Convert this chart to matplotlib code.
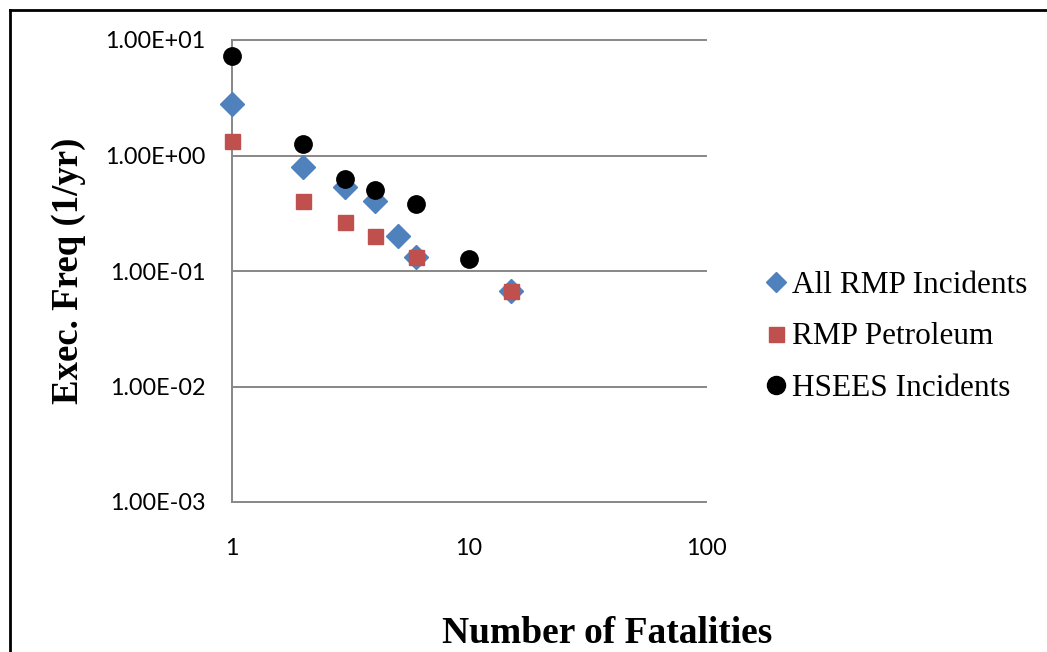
import matplotlib
matplotlib.use("Agg")
import matplotlib.pyplot as plt
from matplotlib.lines import Line2D

# Data
all_rmp_x = [1, 2, 3, 4, 5, 6, 15]
all_rmp_y = [2.8, 0.8, 0.533, 0.4, 0.2, 0.133, 0.0667]
petro_x = [1, 2, 3, 4, 6, 15]
petro_y = [1.33, 0.4, 0.267, 0.2, 0.133, 0.0667]
hsees_x = [1, 2, 3, 4, 6, 10]
hsees_y = [7.25, 1.27, 0.63, 0.5, 0.38, 0.126]
series_names = ["All RMP Incidents", "RMP Petroleum", "HSEES Incidents"]
y_ticks = [1e-3, 1e-2, 1e-1, 1e0, 1e1]
y_tick_labels = ["1.00E-03", "1.00E-02", "1.00E-01", "1.00E+00", "1.00E+01"]
x_ticks = [1, 10, 100]
x_tick_labels = ["1", "10", "100"]

W, H = 1047, 652
fig = plt.figure(figsize=(W / 100, H / 100), dpi=100)

def fx(px):
    return px / W

def fy(py):
    return (H - py) / H

ax = fig.add_axes([fx(232), fy(502), fx(706) - fx(232), fy(40) - fy(502)])
ax.set_xscale("log")
ax.set_yscale("log")
ax.set_xlim(1, 100)
ax.set_ylim(1e-3, 1e1)

grid_c = "#878787"
for t in y_ticks[1:]:
    ax.axhline(t, color=grid_c, lw=1.4, zorder=1, clip_on=False)
for s in ["top", "right"]:
    ax.spines[s].set_visible(False)
for s in ["left", "bottom"]:
    ax.spines[s].set_color(grid_c)
    ax.spines[s].set_linewidth(1.4)

blue = "#4F81BD"
red = "#C0504D"
ax.plot(all_rmp_x, all_rmp_y, ls="none", marker="D", ms=12.6, color=blue,
        mec=blue, zorder=3, clip_on=False)
ax.plot(petro_x, petro_y, ls="none", marker="s", ms=10.8, color=red,
        mec=red, zorder=4, clip_on=False)
ax.plot(hsees_x, hsees_y, ls="none", marker="o", ms=12.5, color="black",
        mec="black", zorder=5, clip_on=False)

ax.set_yticks(y_ticks)
ax.set_yticklabels(y_tick_labels)
ax.set_xticks(x_ticks)
ax.set_xticklabels(x_tick_labels)
ax.minorticks_off()
ax.tick_params(axis="both", length=0, labelsize=16.8)
ax.tick_params(axis="y", pad=19)
ax.tick_params(axis="x", pad=26)
for lab in ax.get_xticklabels() + ax.get_yticklabels():
    lab.set_fontfamily("Lato")
    lab.set_color("black")

# Axis titles
fig.text(fx(607), fy(643), "Number of Fatalities", ha="center", va="baseline",
         fontsize=27, fontweight="bold", family="Liberation Serif")
fig.text(fx(68), fy(271), "Exec. Freq (1/yr)", ha="center", va="center",
         rotation=90, fontsize=26.5, fontweight="bold", family="Liberation Serif")

# Legend (manual)
leg_y = [282, 333.5, 385]
leg_markers = [("D", 10.2, blue), ("s", 10.8, red), ("o", 13.0, "black")]
for (m, ms, c), name, yy in zip(leg_markers, series_names, leg_y):
    fig.add_artist(Line2D([fx(776)], [fy(yy)], marker=m, ms=ms, color=c,
                          mec=c, ls="none"))
    fig.text(fx(792), fy(yy), name, ha="left", va="center_baseline",
             fontsize=22.5, family="Liberation Serif")

# Chart border
fig.add_artist(Line2D([fx(10), fx(10)], [fy(10), 0], color="black", lw=2))
fig.add_artist(Line2D([fx(10), 1], [fy(10), fy(10)], color="black", lw=2))

fig.savefig("out.png", dpi=100, facecolor="white")
